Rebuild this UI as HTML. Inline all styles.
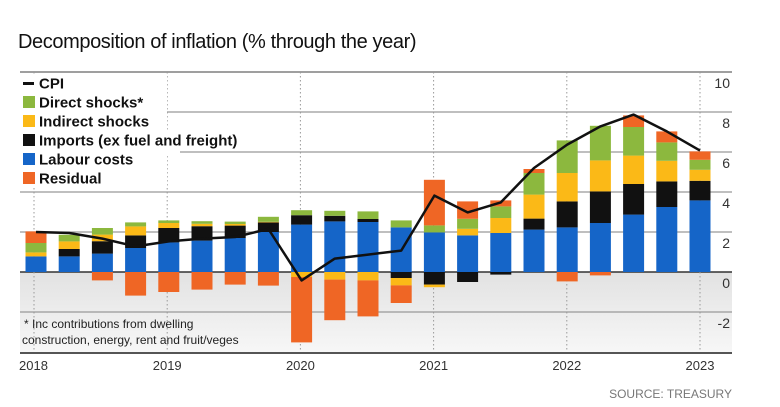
<!DOCTYPE html>
<html><head><meta charset="utf-8"><style>
body{margin:0;background:#fff;}
svg{display:block;font-family:"Liberation Sans",sans-serif;}
</style></head><body>
<svg id="chart" width="780" height="407" viewBox="0 0 780 407">
<defs><linearGradient id="g" x1="0" y1="0" x2="0" y2="1"><stop offset="0" stop-color="#e2e2e2"/><stop offset="1" stop-color="#f7f7f7"/></linearGradient></defs>
<text x="18" y="48" font-size="20" fill="#111" letter-spacing="-0.4">Decomposition of inflation (% through the year)</text>
<rect x="20" y="272" width="712" height="81" fill="url(#g)"/>
<g id="grid"></g>
<g id="bars"></g>
<g id="line"></g>
<g id="legend"></g>
<text x="24" y="328" font-size="12" fill="#222">* Inc contributions from dwelling</text>
<text x="22" y="344" font-size="12" fill="#222">construction, energy, rent and fruit/veges</text>
<text x="732" y="398" font-size="12" fill="#777" text-anchor="end">SOURCE: TREASURY</text>
</svg>
<script>
const years = ["2018","2019","2020","2021","2022","2023"];
const yTicks = [10,8,6,4,2,0,-2];
const labour   = [0.78,0.78,0.92,1.2,1.48,1.57,1.7,2.0,2.37,2.53,2.5,2.23,1.98,1.83,1.95,2.12,2.23,2.45,2.87,3.25,3.58];
const importsP = [0,0.37,0.62,0.63,0.72,0.72,0.62,0.48,0.47,0.28,0.15,0,0,0,0,0.55,1.3,1.58,1.53,1.28,0.98];
const indirectP= [0.2,0.38,0.33,0.45,0.25,0.12,0.08,0.03,0,0,0,0,0,0.33,0.75,1.2,1.42,1.55,1.42,1.03,0.55];
const directP  = [0.47,0.33,0.33,0.2,0.13,0.13,0.12,0.25,0.25,0.25,0.38,0.35,0.35,0.5,0.58,1.08,1.63,1.73,1.43,0.92,0.5];
const residualP= [0.58,0,0,0,0,0,0,0,0,0,0,0,2.28,0.87,0.3,0.2,0,0,0.58,0.55,0.42];
const importsN = [0,0,0,0,0,0,0,0,0,0,0,-0.3,-0.63,-0.5,-0.13,0,0,0,0,0,0];
const indirectN= [0,0,0,0,0,0,0,0,-0.25,-0.38,-0.42,-0.37,-0.13,0,0,0,0,0,0,0,0];
const residualN= [0,0,-0.42,-1.18,-1.0,-0.88,-0.63,-0.68,-3.27,-2.03,-1.8,-0.88,0,0,0,0,-0.47,-0.17,0,0,0];
const cpi = [2.0,1.95,1.67,1.28,1.53,1.67,1.75,2.15,-0.42,0.67,0.87,1.07,3.82,2.98,3.48,5.2,6.37,7.28,7.87,7.03,6.07];

const NS="http://www.w3.org/2000/svg";
const L=20,R=732;
function y(v){return 272-v*20;}
function xb(i){return 36+i*33.2;}
function xy(k){return 34+k*133.2;}
function mk(t,a,p){const e=document.createElementNS(NS,t);for(const k in a)e.setAttribute(k,a[k]);p.appendChild(e);return e;}
const grid=document.getElementById('grid');
yTicks.forEach(v=>{
  const l=mk('line',{x1:L,x2:R,y1:y(v),y2:y(v),stroke:v===0?'#333':(v===10?'#666':'#999'),'stroke-width':v===0?1.5:1.2},grid);
  
  
  const t=mk('text',{x:730,y:y(v)+16,'font-size':14,fill:'#333','text-anchor':'end'},grid);
  t.textContent=v;
  
  
});
years.forEach((yr,k)=>{
  const d=mk('line',{x1:xy(k),x2:xy(k),y1:72,y2:353,stroke:'#999','stroke-width':1,'stroke-dasharray':'1.5,2.5'},grid);
  
  
  const t=mk('text',{x:xy(k)+(k===0?-15:0),y:370,'font-size':13,fill:'#333','text-anchor':k===0?'start':'middle'},grid);
  t.textContent=yr;
  
  
});
const ax=mk('line',{x1:L,x2:R,y1:353,y2:353,stroke:'#555','stroke-width':2},grid);


const bars=document.getElementById('bars');
const posS=[[labour,'#1565c8','labour'],[importsP,'#111','imports'],[indirectP,'#fbb917','indirect'],[directP,'#8cb83e','direct'],[residualP,'#ef6625','residual']];
const negS=[[importsN,'#111','imports'],[indirectN,'#fbb917','indirect'],[residualN,'#ef6625','residual']];
for(let i=0;i<cpi.length;i++){
  let c=0;
  posS.forEach(([arr,col,n])=>{const v=arr[i];if(v>0){const r=mk('rect',{x:xb(i)-10.5,width:21,y:y(c+v),height:v*20,fill:col},bars);
    
    c+=v;}});
  c=0;
  negS.forEach(([arr,col,n])=>{const v=arr[i];if(v<0){const r=mk('rect',{x:xb(i)-10.5,width:21,y:y(c),height:-v*20,fill:col},bars);
    
    c+=v;}});
}
const pl=mk('polyline',{points:cpi.map((v,i)=>xb(i)+','+y(v)).join(' '),fill:'none',stroke:'#111','stroke-width':2.5,'stroke-linejoin':'round'},document.getElementById('line'));


const lg=document.getElementById('legend');
const bg=mk('rect',{x:20,y:74,width:147,height:112,fill:'#fff'},lg);


const bg2=mk('rect',{x:20,y:130,width:160,height:24,fill:'#fff'},lg);


const bg3=mk('rect',{x:20,y:131,width:230,height:18,fill:'#fff'},lg);


const items=[['CPI','#111',true],['Direct shocks*','#8cb83e'],['Indirect shocks','#fbb917'],['Imports (ex fuel and freight)','#111'],['Labour costs','#1565c8'],['Residual','#ef6625']];
items.forEach(([lab,col,isLine],k)=>{
  const cy=83+k*19;
  const sw=isLine?mk('rect',{x:23,y:cy-1,width:11,height:3,fill:col},lg):mk('rect',{x:23,y:cy-6,width:12,height:12,fill:col},lg);
  
  
  const t=mk('text',{x:39,y:cy+5.5,'font-size':15,'font-weight':'bold',fill:'#111'},lg);
  t.textContent=lab;
  
  
});
</script>
</body></html>
